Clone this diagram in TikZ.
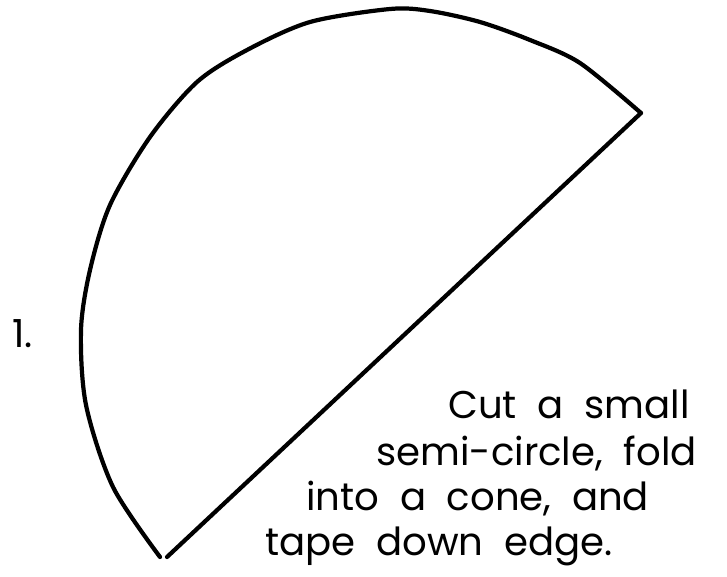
\documentclass[tikz,border=0pt]{standalone}
\usepackage{fontspec}
\setmainfont{Poppins}
\usepackage{tikz}
\usetikzlibrary{positioning}

\begin{document}
\begin{tikzpicture}[x=0.02cm, y=-0.02cm,
  pen/.style   ={draw=black, line width=2.4pt, line cap=round, line join=round},
  hand/.style  ={font=\fontsize{22}{26}\selectfont, inner sep=0pt, anchor=base west},
  stepnum/.style={font=\fontsize{22}{26}\selectfont, inner sep=0pt, anchor=base west},
]
\useasboundingbox (0,0) rectangle (727,576);
% ends of the cut edge
\coordinate (foot) at (167,557);
\coordinate (tip)  at (641,113);
% the curved rim of the half disc
\draw[pen] plot[smooth, tension=0.5] coordinates {
  (160,557) (113,487) (86,405) (81,330) (90,270) (110,205) (150,137)
  (197,82) (247,50) (310,22) (390,9) (430,11) (480,22) (530,40)
  (580,63) (641,113)};
% the straight edge
\draw[pen] (tip) -- (foot);
% step number and note
\node[stepnum] (num) at (12,347) {1.};
\node[hand] (line1) at (448,418) {Cut\ \ a\ \ small};
\node[hand] (line2) at (376,465) {semi-circle,\ \ fold};
\node[hand] (line3) at (306,510) {into\ \ a\ \ cone,\ \ and};
\node[hand] (line4) at (265,555) {tape\ \ down\ \ edge.};
\end{tikzpicture}
\end{document}
